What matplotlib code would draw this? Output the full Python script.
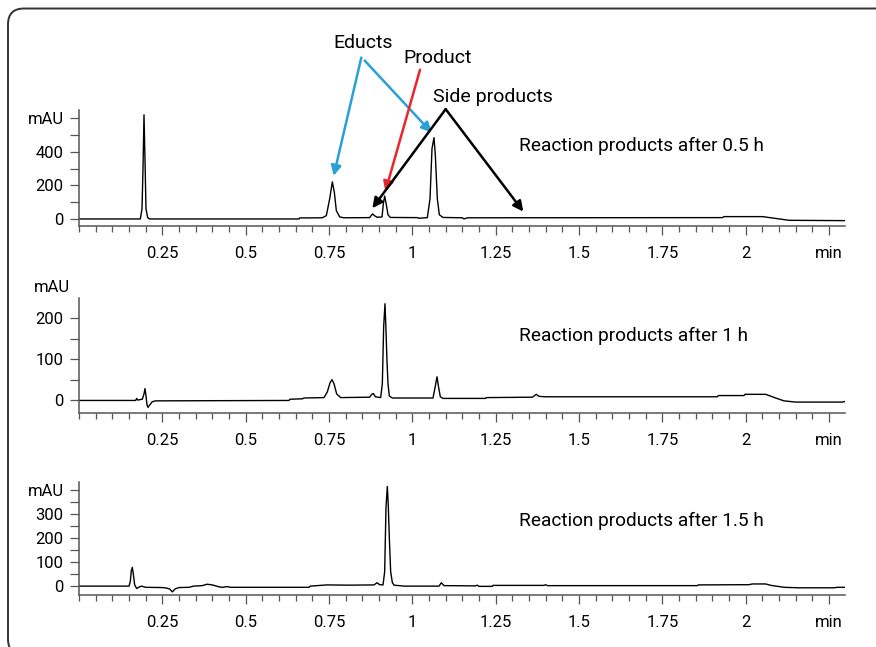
import matplotlib
matplotlib.use("Agg")
import matplotlib.pyplot as plt
from matplotlib.patches import FancyBboxPatch
from matplotlib.ticker import MultipleLocator

plt.rcParams["font.family"] = ["Roboto", "DejaVu Sans"]

# chromatogram after 0.5 h (time in min, signal in mAU)
t_05 = [0.000, 0.184, 0.189, 0.192, 0.195, 0.198, 0.201, 0.206, 0.212, 0.660,
        0.662, 0.730, 0.742, 0.752, 0.760, 0.766, 0.772, 0.782, 0.795, 0.872,
        0.877, 0.881, 0.886, 0.895, 0.909, 0.913, 0.917, 0.922, 0.927, 0.934,
        1.015, 1.020, 1.045, 1.053, 1.059, 1.065, 1.069, 1.075, 1.081, 1.092,
        1.150, 1.155, 1.165, 1.930, 1.935, 2.050, 2.080, 2.130, 2.300]
mau_05 = [0, 0, 60, 300, 621, 350, 60, 8, 0, 0,
          6, 7, 20, 120, 221, 160, 50, 12, 7, 8,
          22, 30, 20, 10, 12, 90, 137, 85, 25, 9,
          8, 4, 8, 120, 420, 485, 380, 120, 25, 9,
          7, 0, 7, 8, 14, 14, 6, -8, -10]

# chromatogram after 1 h
t_1 = [0.000, 0.170, 0.173, 0.176, 0.190, 0.195, 0.198, 0.201, 0.204, 0.207,
       0.212, 0.220, 0.230, 0.630, 0.633, 0.670, 0.675, 0.735, 0.745, 0.753,
       0.759, 0.765, 0.773, 0.785, 0.872, 0.878, 0.883, 0.889, 0.905, 0.910,
       0.914, 0.918, 0.921, 0.924, 0.927, 0.931, 0.940, 1.062, 1.068, 1.074,
       1.078, 1.084, 1.092, 1.220, 1.222, 1.360, 1.372, 1.380, 1.400, 1.915,
       1.918, 1.995, 1.998, 2.060, 2.090, 2.115, 2.150, 2.290, 2.300]
mau_1 = [-1, -1, 4, 0, 2, 15, 28, 10, -12, -18,
         -12, -4, -2, -1, 2, 3, 5, 6, 20, 42,
         50, 40, 15, 6, 7, 14, 16, 8, 6, 40,
         180, 236, 170, 95, 40, 10, 5, 5, 30, 57,
         35, 8, 4, 4, 6, 7, 14, 9, 8, 8,
         11, 11, 14, 14, 5, -2, -5, -5, -3]

# chromatogram after 1.5 h
t_15 = [0.000, 0.150, 0.154, 0.157, 0.160, 0.163, 0.167, 0.173, 0.180, 0.188,
        0.195, 0.200, 0.250, 0.262, 0.272, 0.280, 0.288, 0.300, 0.330, 0.344,
        0.370, 0.384, 0.400, 0.420, 0.430, 0.445, 0.455, 0.690, 0.694, 0.744,
        0.810, 0.885, 0.894, 0.902, 0.912, 0.917, 0.921, 0.925, 0.928, 0.931,
        0.935, 0.940, 0.945, 0.975, 1.080, 1.087, 1.095, 1.190, 1.195, 1.200,
        1.240, 1.242, 1.395, 1.400, 1.405, 1.855, 1.858, 2.010, 2.020, 2.060,
        2.076, 2.116, 2.160, 2.265, 2.275, 2.300]
mau_15 = [0, 0, 20, 65, 78, 50, 5, -10, -4, 0,
          -3, -5, -6, -8, -12, -24, -12, -6, -5, 0,
          2, 8, 5, -3, -5, -2, -5, -5, 0, 5,
          4, 5, 14, 6, 5, 60, 330, 415, 330, 200,
          60, 15, 4, 0, 0, 14, 2, 1, 4, -1,
          -1, 3, 3, 6, 2, 2, 5, 6, 9, 9,
          3, -5, -7, -7, -5, -5]

x_ticks = [0.25, 0.5, 0.75, 1.0, 1.25, 1.5, 1.75, 2.0, 2.25]
x_labels = ["0.25", "0.5", "0.75", "1", "1.25", "1.5", "1.75", "2", "min"]

panels = [
    dict(t=t_05, y=mau_05, ylim=(-42, 650), yticks=[0, 100, 200, 300, 400, 500, 600],
         ylabels=["0", "", "200", "", "400", "", "mAU"], title="Reaction products after 0.5 h",
         title_y=433, rect=[79, 110, 845, 226]),
    dict(t=t_1, y=mau_1, ylim=(-31, 250), yticks=[0, 50, 100, 150, 200],
         ylabels=["0", "", "100", "", "200"], title="Reaction products after 1 h",
         title_y=158, rect=[79, 298, 845, 412.7]),
    dict(t=t_15, y=mau_15, ylim=(-37, 435), yticks=[0, 50, 100, 150, 200, 250, 300, 350, 400],
         ylabels=["0", "", "100", "", "200", "", "300", "", "mAU"], title="Reaction products after 1.5 h",
         title_y=273, rect=[79, 481.7, 845, 595]),
]

W, H = 876, 647
fig = plt.figure(figsize=(W / 100, H / 100), dpi=100)

# rounded frame round the whole graphic
frame = FancyBboxPatch((8, -8), 890, H - 8.5 + 8, boxstyle="round,pad=0,rounding_size=16",
                       transform=None, fill=False, edgecolor="#333333", lw=1.4)
fig.add_artist(frame)

axes = []
for p in panels:
    l, top, r, bot = p["rect"]
    ax = fig.add_axes([l / W, 1 - bot / H, (r - l) / W, (bot - top) / H])
    ax.plot(p["t"], p["y"], color="black", lw=1.0)
    ax.set_xlim(0, 2.298)
    ax.set_ylim(*p["ylim"])
    ax.set_xticks(x_ticks)
    ax.set_xticklabels(x_labels)
    ax.xaxis.set_minor_locator(MultipleLocator(0.05))
    ax.set_yticks(p["yticks"])
    ax.set_yticklabels(p["ylabels"])
    for s in ["top", "right"]:
        ax.spines[s].set_visible(False)
    for s in ["left", "bottom"]:
        ax.spines[s].set_color("#555555")
        ax.spines[s].set_linewidth(1.1)
    ax.tick_params(axis="x", which="major", length=6.5, width=0.9, color="#555555",
                   pad=8, labelsize=12)
    ax.tick_params(axis="x", which="minor", length=4.3, width=0.9, color="#555555")
    ax.tick_params(axis="y", which="major", length=6.5, width=0.9, color="#555555",
                   pad=4.5, labelsize=12)
    ax.text(1.32, p["title_y"], p["title"], fontsize=13.7, ha="left", va="center")
    ax.patch.set_alpha(0)
    axes.append(ax)

# middle panel has its unit label above the axis
axes[1].text(-0.012, 275, "mAU", fontsize=12, ha="right", va="center",
             transform=axes[1].get_yaxis_transform())

# annotations in the top panel
top_ax = axes[0]
blue = "#2a9fd8"
red = "#e8262b"
arrow_kw = dict(arrowstyle="-|>", lw=1.8, mutation_scale=15, shrinkA=0, shrinkB=0)
top_ax.text(0.853, 1051, "Educts", fontsize=14, ha="center", va="center", clip_on=False)
top_ax.text(1.076, 961, "Product", fontsize=14, ha="center", va="center", clip_on=False)
top_ax.text(1.241, 728, "Side products", fontsize=14, ha="center", va="center", clip_on=False)
top_ax.annotate("", xy=(0.764, 257), xytext=(0.847, 963), annotation_clip=False,
                arrowprops=dict(color=blue, **arrow_kw))
top_ax.annotate("", xy=(1.058, 515), xytext=(0.857, 945), annotation_clip=False,
                arrowprops=dict(color=blue, **arrow_kw))
top_ax.annotate("", xy=(0.919, 163), xytext=(1.023, 890), annotation_clip=False,
                arrowprops=dict(color=red, **arrow_kw))
top_ax.annotate("", xy=(0.880, 64), xytext=(1.100, 655), annotation_clip=False,
                arrowprops=dict(color="black", **arrow_kw))
top_ax.annotate("", xy=(1.333, 44), xytext=(1.100, 655), annotation_clip=False,
                arrowprops=dict(color="black", **arrow_kw))

fig.savefig("out.png", dpi=100)
